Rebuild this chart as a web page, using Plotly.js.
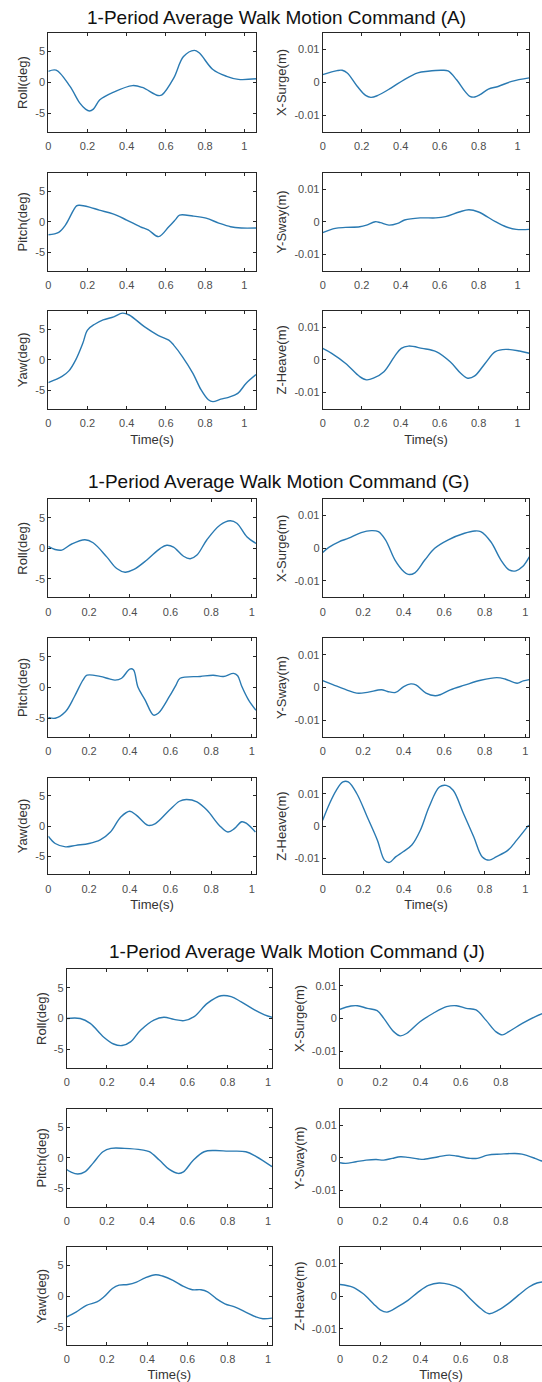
<!DOCTYPE html>
<html><head><meta charset="utf-8">
<script src="https://cdn.plot.ly/plotly-3.0.1.min.js"></script>
<style>html,body{margin:0;padding:0;background:#fff}</style>
</head><body><div id="chart" style="width:542px;height:1382px"></div>
<script>
// ---------------- DATA ----------------
const groupTitles = ["1-Period Average Walk Motion Command (A)","1-Period Average Walk Motion Command (G)","1-Period Average Walk Motion Command (J)"];
const channelLabels = [["Roll(deg)","X-Surge(m)"],["Pitch(deg)","Y-Sway(m)"],["Yaw(deg)","Z-Heave(m)"]];
const xLabel = "Time(s)";
const xTickVals = [0,0.2,0.4,0.6,0.8,1];
const xTickText = ["0","0.2","0.4","0.6","0.8","1"];
const degTickVals = [-5,0,5];
const degTickText = ["-5","0","5"];
const mTickVals = [-0.01,0,0.01];
const mTickText = ["-0.01","0","0.01"];
const degRange = [-8,8];
const mRange = [-0.015,0.015];

// Group A
const A_roll_t = [0,0.04,0.11,0.16,0.19,0.21,0.23,0.263,0.33,0.43,0.48,0.56,0.58,0.64,0.69,0.745,0.77,0.84,0.91,0.97,1.06];
const A_roll   = [1.8,2.0,-0.6,-3.3,-4.3,-4.6,-4.3,-2.8,-1.6,-0.5,-0.8,-2.1,-2.0,0.7,4.2,5.2,4.8,2.1,1.0,0.5,0.6];
const A_surge_t = [0,0.074,0.1,0.126,0.178,0.22,0.247,0.28,0.35,0.419,0.488,0.54,0.61,0.643,0.686,0.73,0.755,0.78,0.807,0.85,0.9,0.97,1.06];
const A_surge   = [0.0024,0.0036,0.0037,0.0029,-0.0012,-0.0039,-0.0045,-0.0040,-0.0017,0.0009,0.0029,0.0034,0.0037,0.0035,0.0009,-0.0027,-0.0042,-0.0044,-0.0037,-0.0020,-0.0012,0.00035,0.0014];
const A_pitch_t = [0,0.053,0.088,0.144,0.16,0.21,0.26,0.33,0.4,0.47,0.51,0.563,0.615,0.65,0.67,0.737,0.805,0.87,0.93,0.985,1.06];
const A_pitch   = [-2.1,-1.7,-0.5,2.6,2.7,2.4,1.9,1.3,0.3,-0.8,-1.3,-2.4,-0.8,0.4,1.1,0.95,0.6,-0.2,-0.8,-1.0,-1.0];
const A_sway_t = [0,0.064,0.117,0.19,0.225,0.27,0.296,0.34,0.385,0.42,0.5,0.58,0.63,0.7,0.75,0.8,0.886,0.94,0.993,1.06];
const A_sway   = [-0.0033,-0.0020,-0.0017,-0.0015,-0.0010,0.00005,-0.00025,-0.0010,-0.00045,0.00056,0.0012,0.0012,0.0016,0.0030,0.0037,0.0030,0.00005,-0.0015,-0.0023,-0.0023];
const A_yaw_t = [0,0.07,0.105,0.14,0.176,0.2,0.237,0.28,0.334,0.378,0.413,0.49,0.56,0.615,0.64,0.685,0.738,0.78,0.817,0.84,0.88,0.92,0.967,1.01,1.06];
const A_yaw   = [-3.7,-2.7,-1.8,0,2.7,4.85,5.8,6.5,7.0,7.6,7.3,5.4,4.0,3.2,2.4,0.5,-2.2,-4.9,-6.5,-6.8,-6.4,-6.1,-5.45,-3.8,-2.4];
const A_heave_t = [0,0.046,0.118,0.19,0.225,0.26,0.314,0.368,0.403,0.44,0.51,0.582,0.654,0.708,0.744,0.78,0.833,0.886,0.94,1.01,1.06];
const A_heave   = [0.0035,0.0020,-0.0011,-0.0051,-0.0061,-0.0056,-0.0036,0.0010,0.0035,0.0042,0.0035,0.0025,-0.0006,-0.0041,-0.0056,-0.0049,-0.0011,0.0025,0.0032,0.0027,0.0020];

// Group G
const G_roll_t = [0,0.033,0.066,0.115,0.18,0.22,0.287,0.336,0.377,0.418,0.484,0.55,0.582,0.615,0.664,0.697,0.73,0.779,0.844,0.893,0.926,0.975,1.02];
const G_roll   = [0.3,-0.2,-0.3,0.7,1.4,0.9,-1.4,-3.3,-3.9,-3.5,-1.9,0,0.5,0.2,-1.3,-1.7,-1.1,1.4,3.8,4.5,4.1,1.9,0.8];
const G_surge_t = [0,0.03,0.08,0.128,0.19,0.24,0.275,0.31,0.357,0.4,0.422,0.455,0.504,0.553,0.62,0.7,0.75,0.78,0.83,0.88,0.92,0.954,0.987,1.02];
const G_surge   = [-0.0013,0.0003,0.0020,0.0031,0.0048,0.0054,0.0051,0.0026,-0.0036,-0.0071,-0.0080,-0.0075,-0.0036,0,0.0026,0.0046,0.0053,0.0051,0.0020,-0.0036,-0.0066,-0.0069,-0.0056,-0.0026];
const G_pitch_t = [0,0.034,0.085,0.128,0.17,0.19,0.254,0.3,0.328,0.36,0.4,0.418,0.44,0.475,0.517,0.54,0.594,0.627,0.647,0.746,0.81,0.86,0.91,0.93,0.95,0.983,1.02];
const G_pitch   = [-4.85,-5.0,-3.9,-1.5,1.2,2.0,1.8,1.4,1.2,1.5,3.0,2.9,0.1,-2.0,-4.5,-4.2,-1.5,0.4,1.5,1.8,2.0,1.8,2.3,1.9,0.2,-2.0,-3.7];
const G_sway_t = [0,0.05,0.117,0.168,0.22,0.29,0.32,0.36,0.4,0.435,0.46,0.51,0.555,0.58,0.63,0.7,0.78,0.86,0.9,0.96,0.99,1.02];
const G_sway   = [0.0021,0.0009,-0.0007,-0.0017,-0.0015,-0.0007,-0.0012,-0.0015,0.0003,0.0011,0.0008,-0.0017,-0.0025,-0.0022,-0.0007,0.0007,0.0022,0.0030,0.0026,0.0013,0.0020,0.0024];
const G_yaw_t = [0,0.034,0.085,0.136,0.2,0.255,0.305,0.356,0.4,0.432,0.49,0.526,0.594,0.644,0.678,0.73,0.78,0.84,0.882,0.915,0.95,0.975,1.017];
const G_yaw   = [-1.7,-2.9,-3.45,-3.2,-2.9,-2.3,-1.0,1.5,2.45,1.8,0.1,0.4,2.6,4.1,4.4,4.0,2.6,0.1,-1.0,-0.4,0.7,0.4,-1.0];
const G_heave_t = [0,0.034,0.067,0.1,0.126,0.168,0.22,0.27,0.305,0.33,0.36,0.397,0.44,0.482,0.525,0.576,0.61,0.644,0.695,0.746,0.788,0.822,0.856,0.915,0.958,1.017];
const G_heave   = [0.0018,0.0070,0.0111,0.0137,0.0137,0.0101,0.0028,-0.0044,-0.0106,-0.0113,-0.0096,-0.0080,-0.0059,-0.0013,0.0059,0.0121,0.0126,0.0111,0.0039,-0.0034,-0.0096,-0.0106,-0.0096,-0.0075,-0.0044,0.00025];

// Group J
const J_roll_t = [0,0.067,0.117,0.183,0.233,0.275,0.317,0.367,0.433,0.483,0.533,0.583,0.633,0.7,0.767,0.817,0.867,0.933,0.983,1.02];
const J_roll   = [0,0,-0.8,-3.0,-4.15,-4.4,-3.8,-1.9,-0.25,0.2,-0.15,-0.35,0.3,2.5,3.7,3.55,2.7,1.4,0.6,0.2];
const J_surge_t = [0,0.054,0.087,0.136,0.185,0.218,0.267,0.3,0.333,0.398,0.464,0.53,0.58,0.628,0.677,0.726,0.775,0.808,0.84,0.907,0.972,1.02];
const J_surge   = [0.0028,0.0038,0.0039,0.0031,0.0024,0.00005,-0.0040,-0.0053,-0.0045,-0.0010,0.0016,0.0036,0.0039,0.0031,0.0026,-0.0005,-0.0040,-0.0050,-0.0040,-0.0015,0.0006,0.0018];
const J_pitch_t = [0,0.02,0.055,0.09,0.13,0.18,0.22,0.287,0.373,0.41,0.46,0.51,0.554,0.58,0.63,0.683,0.735,0.803,0.89,0.94,1.02];
const J_pitch   = [-1.9,-2.3,-2.65,-2.3,-0.9,1.0,1.55,1.55,1.3,1.0,-0.35,-1.9,-2.55,-2.3,-0.35,1.0,1.2,1.1,1.0,0.25,-1.45];
const J_sway_t = [0,0.028,0.08,0.13,0.18,0.217,0.26,0.3,0.338,0.39,0.42,0.49,0.544,0.58,0.648,0.683,0.735,0.8,0.87,0.905,0.97,1.0,1.02];
const J_sway   = [-0.0015,-0.0017,-0.0012,-0.0007,-0.0005,-0.0007,-0.00015,0.00035,0.00015,-0.00035,-0.00045,0.00035,0.00085,0.00055,-0.00015,-0.00015,0.00085,0.00115,0.00135,0.00115,-0.00015,-0.0009,-0.0012];
const J_yaw_t = [0,0.046,0.098,0.15,0.184,0.227,0.26,0.304,0.347,0.39,0.442,0.476,0.528,0.58,0.624,0.667,0.7,0.743,0.786,0.837,0.889,0.94,0.975,1.02];
const J_yaw   = [-3.4,-2.6,-1.5,-0.95,-0.15,1.25,1.8,1.9,2.3,3.0,3.5,3.3,2.6,1.6,1.05,1.05,0.7,-0.4,-1.25,-1.8,-2.6,-3.4,-3.7,-3.6];
const J_heave_t = [0,0.063,0.114,0.166,0.2,0.234,0.286,0.338,0.39,0.44,0.493,0.544,0.596,0.648,0.7,0.742,0.785,0.837,0.888,0.94,0.98,1.02];
const J_heave   = [0.0036,0.0028,0.0008,-0.0023,-0.0042,-0.0049,-0.0033,-0.0013,0.0013,0.0033,0.00405,0.0036,0.0023,-0.0008,-0.0038,-0.0054,-0.0044,-0.0023,0.0003,0.0028,0.00405,0.0044];

const seriesByGroup = [
  [[[A_roll_t,A_roll],[A_surge_t,A_surge]],[[A_pitch_t,A_pitch],[A_sway_t,A_sway]],[[A_yaw_t,A_yaw],[A_heave_t,A_heave]]],
  [[[G_roll_t,G_roll],[G_surge_t,G_surge]],[[G_pitch_t,G_pitch],[G_sway_t,G_sway]],[[G_yaw_t,G_yaw],[G_heave_t,G_heave]]],
  [[[J_roll_t,J_roll],[J_surge_t,J_surge]],[[J_pitch_t,J_pitch],[J_sway_t,J_sway]],[[J_yaw_t,J_yaw],[J_heave_t,J_heave]]]
];
const groupXMax = [[1.06,1.06],[1.02,1.02],[1.02,1.005]];

// ---------------- LAYOUT GEOMETRY (pixels) ----------------
const W = 542, H = 1382;
const geom = [
  {cols:[[48.3,256],[322.7,529.3]], rows:[[33,132],[172.7,271],[310.7,409]], tx:276, ty:17.5, rightSpine:[true,true]},
  {cols:[[48.3,256],[322.7,529.3]], rows:[[499.3,597.3],[638.3,736.7],[777.7,874.3]], tx:278, ty:481.5, rightSpine:[true,true]},
  {cols:[[66.7,272],[340,542]], rows:[[969.3,1067.7],[1109,1206.7],[1247.3,1345]], tx:297, ty:951.5, rightSpine:[true,false]}
];
const axisColor = '#262626';
const lineColor = '#2a7ab2';
const FONT = 'Liberation Sans, Arial, Helvetica, sans-serif';

const traces = [];
const layout = {
  width: W, height: H,
  margin: {l:0, r:0, t:0, b:0},
  paper_bgcolor: '#fff', plot_bgcolor: '#fff',
  showlegend: false,
  font: {family: FONT, color: axisColor},
  annotations: []
};

let k = 0;
geom.forEach((g, gi) => {
  layout.annotations.push({
    text: groupTitles[gi], xref: 'paper', yref: 'paper',
    x: g.tx / W, y: 1 - g.ty / H, xanchor: 'center', yanchor: 'middle',
    showarrow: false, font: {family: FONT, size: 19, color: '#111'}
  });
  for (let r = 0; r < 3; r++) {
    for (let c = 0; c < 2; c++) {
      k++;
      const xa = 'xaxis' + (k === 1 ? '' : k);
      const ya = 'yaxis' + (k === 1 ? '' : k);
      const xr = 'x' + (k === 1 ? '' : k);
      const yr = 'y' + (k === 1 ? '' : k);
      const [tt, vv] = seriesByGroup[gi][r][c];
      traces.push({
        x: tt, y: vv, xaxis: xr, yaxis: yr, type: 'scatter', mode: 'lines',
        line: {color: lineColor, width: 1.4, shape: 'spline', smoothing: 1},
        hoverinfo: 'skip'
      });
      const deg = c === 0;
      layout[xa] = {
        domain: [g.cols[c][0] / W, g.cols[c][1] / W], anchor: yr,
        range: [0, groupXMax[gi][c]], tickvals: xTickVals, ticktext: xTickText,
        ticks: 'inside', ticklen: 3, tickcolor: axisColor, tickwidth: 1,
        showline: true, linecolor: axisColor, linewidth: 1, mirror: 'ticks',
        showgrid: false, zeroline: false, fixedrange: true,
        tickfont: {family: FONT, size: 11, color: '#4d4d4d'},
        ticklabelstandoff: 4
      };
      if (r === 2) {
        layout[xa].title = {text: xLabel, font: {family: FONT, size: 13, color: '#333'}, standoff: 6};
      }
      layout[ya] = {
        domain: [1 - g.rows[r][1] / H, 1 - g.rows[r][0] / H], anchor: xr,
        range: deg ? degRange : mRange,
        tickvals: deg ? degTickVals : mTickVals, ticktext: deg ? degTickText : mTickText,
        ticks: 'inside', ticklen: 3, tickcolor: axisColor, tickwidth: 1,
        showline: true, linecolor: axisColor, linewidth: 1,
        mirror: g.rightSpine[c] ? 'ticks' : false,
        showgrid: false, zeroline: false, fixedrange: true,
        tickfont: {family: FONT, size: 11, color: '#4d4d4d'},
        title: {text: channelLabels[r][c], font: {family: FONT, size: 13, color: '#333'}, standoff: 4}
      };
    }
  }
});

Plotly.newPlot('chart', traces, layout, {displayModeBar: false, staticPlot: true});
</script>
</body></html>
